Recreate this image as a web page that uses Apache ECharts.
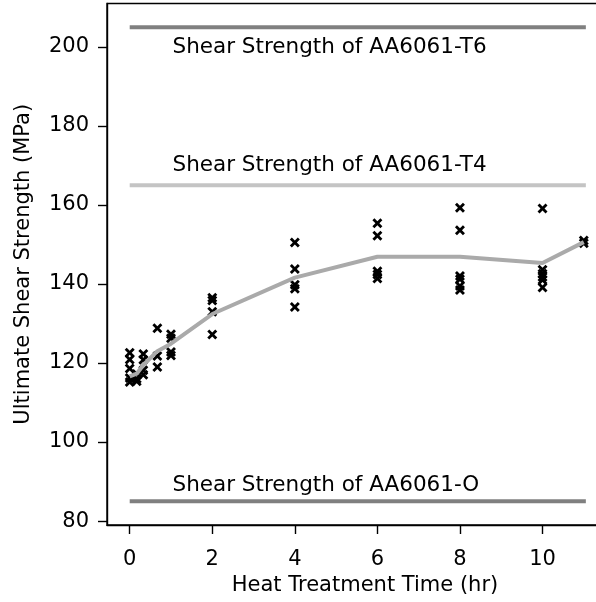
<!DOCTYPE html>
<html>
<head>
<meta charset="utf-8">
<script src="https://cdn.jsdelivr.net/npm/echarts@6/dist/echarts.min.js"></script>
<style>
html,body{margin:0;padding:0;background:#fff;overflow:hidden;width:596px;height:602px;}
#chart{width:623px;height:602px;}
</style>
</head>
<body>
<div id="chart"></div>
<script>
// Data
const sampleTimes = [
  0,0,0,0,0,
  0.17,0.17,0.17,
  0.33,0.33,0.33,0.33,
  0.67,0.67,0.67,
  1,1,1,1,
  2,2,2,2,
  4,4,4,4,4,
  6,6,6,6,6,
  8,8,8,8,8,8,
  10,10,10,10,10,10,
  11,11
];
const sampleStrengths = [
  122.6,120.9,118.6,116.2,115.2,
  117.2,116.0,115.4,
  122.3,120.8,118.2,117.0,
  128.8,121.8,119.0,
  127.3,126.3,122.8,121.9,
  136.5,135.8,133.0,127.2,
  150.5,143.8,139.8,138.8,134.2,
  155.4,152.2,143.2,142.4,141.4,
  159.3,153.6,142.0,141.2,139.5,138.5,
  159.1,143.6,142.6,141.8,141.0,139.1,
  151.0,150.3
];
const meanTimes = [0,0.17,0.33,0.67,1,2,4,6,8,10,11];
const meanStrengths = [116.6,117.3,119.5,123.0,124.9,132.4,141.6,146.9,146.9,145.3,150.6];

const refNames = ['Shear Strength of AA6061-T6','Shear Strength of AA6061-T4','Shear Strength of AA6061-O'];
const refLevels = [205,165,85];
const refLabelY = [200,170,89];
const refLabelX = 1;
const refStart = 0, refEnd = 11.05;

const xTicks = [0,2,4,6,8,10];
const yTicks = [80,100,120,140,160,180,200];

const FONT = 'DejaVu Sans';
const FS = 21;
const refColors = ['#808080','#c4c4c4','#808080'];

const xMark = 'path://M0,2L2,0L5,3L8,0L10,2L7,5L10,8L8,10L5,7L2,10L0,8L3,5Z';

const series = [];
refLevels.forEach((lv,i)=>{
  series.push({
    type:'line', data:[[refStart,lv],[refEnd,lv]], symbol:'none', silent:true,
    lineStyle:{color:refColors[i], width:4, cap:'butt'}, z:2
  });
});
series.push({
  type:'scatter', data: sampleTimes.map((t,i)=>[t,sampleStrengths[i]]),
  symbol:xMark, symbolSize:10, itemStyle:{color:'#000', opacity:1}, z:3
});
series.push({
  type:'line', data: meanTimes.map((t,i)=>[t,meanStrengths[i]]), symbol:'none',
  lineStyle:{color:'#aaaaaa', width:4}, z:4
});
series.push({
  type:'scatter', data: refNames.map((n,i)=>({value:[refLabelX, refLabelY[i]], name:n})),
  symbol:'circle', symbolSize:1, itemStyle:{color:'rgba(0,0,0,0)'}, z:5, silent:true,
  label:{show:true, position:'right', distance:1, formatter:p=>p.name, opacity:1,
    color:'#000', fontFamily:FONT, fontSize:21.5, verticalAlign:'middle', textBorderWidth:0}
});

const chart = echarts.init(document.getElementById('chart'), null, {renderer:'canvas'});
chart.setOption({
  animation:false,
  backgroundColor:'#fff',
  grid:{left:107, top:3.5, right:0, bottom:77, show:true, borderColor:'#000', borderWidth:1.4, containLabel:false},
  xAxis:{
    type:'value', min:-0.55, max:11.95,
    name:'Heat Treatment Time (hr)', nameLocation:'middle', nameGap:46,
    nameTextStyle:{fontFamily:FONT, fontSize:FS, color:'#000'},
    axisLine:{show:true, onZero:false, lineStyle:{color:'#000', width:1.4}},
    axisTick:{show:true, length:9, customValues:xTicks, lineStyle:{color:'#000', width:1.4}},
    axisLabel:{fontFamily:FONT, fontSize:FS, color:'#000', margin:24, customValues:xTicks},
    splitLine:{show:false}
  },
  yAxis:{
    type:'value', min:79, max:211,
    name:'Ultimate Shear Strength (MPa)', nameLocation:'middle', nameGap:73,
    nameTextStyle:{fontFamily:FONT, fontSize:FS, color:'#000'},
    axisLine:{show:true, onZero:false, lineStyle:{color:'#000', width:1.4}},
    axisTick:{show:true, length:9, customValues:yTicks, lineStyle:{color:'#000', width:1.4}},
    axisLabel:{fontFamily:FONT, fontSize:FS, color:'#000', margin:18, customValues:yTicks},
    splitLine:{show:false}
  },
  series:series
});
</script>
</body>
</html>
